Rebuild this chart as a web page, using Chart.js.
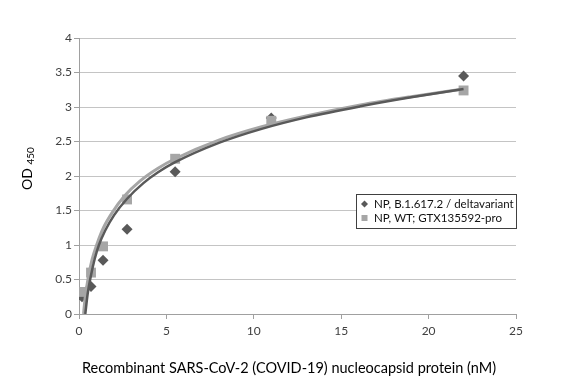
<!DOCTYPE html>
<html>
<head>
<meta charset="utf-8">
<script src="https://cdn.jsdelivr.net/npm/chart.js@4/dist/chart.umd.min.js"></script>
<style>
  html,body{margin:0;padding:0;background:#fff;}
  #wrap{width:582px;height:382px;position:relative;}
</style>
</head>
<body>
<div id="wrap"><canvas id="c" width="582" height="382"></canvas></div>
<script>
// Concentrations (nM)
const concentrations = [0.172, 0.6875, 1.375, 2.75, 5.5, 11, 22];
// Measured OD450
const deltaValues = [0.25, 0.40, 0.78, 1.23, 2.06, 2.84, 3.45];
const wtValues    = [0.32, 0.60, 0.98, 1.66, 2.25, 2.80, 3.24];
// Trendlines
const deltaFitX = [0.36, 0.5, 0.67, 0.9, 1.14, 1.5, 2.0, 2.75, 3.7, 4.5, 5.5, 8, 10.4, 13, 16.1, 19, 22];
const deltaFitY = [0.0, 0.30, 0.54, 0.80, 1.00, 1.21, 1.43, 1.67, 1.90, 2.05, 2.20, 2.48, 2.68, 2.85, 3.01, 3.14, 3.26];
const wtFitX = [0.26, 0.35, 0.51, 0.75, 1.01, 1.4, 1.9, 2.6, 3.5, 4.5, 5.5, 8, 10.4, 13, 16.1, 19, 22];
const wtFitY = [0.0, 0.23, 0.50, 0.79, 1.00, 1.25, 1.47, 1.71, 1.93, 2.11, 2.25, 2.52, 2.71, 2.87, 3.03, 3.15, 3.26];
// Axis ticks
const xTicks = [0, 5, 10, 15, 20, 25];
const yTicks = [0, 0.5, 1, 1.5, 2, 2.5, 3, 3.5, 4];
const seriesNames = ['NP, B.1.617.2 / deltavariant', 'NP, WT; GTX135592-pro'];
const xTitle = 'Recombinant SARS-CoV-2 (COVID-19) nucleocapsid protein (nM)';

const pts = (xs, ys) => xs.map((x, i) => ({x, y: ys[i]}));

const overlay = {
  id: 'overlay',
  afterDraw(chart) {
    const ctx = chart.ctx;
    ctx.save();
    // Y title with subscript
    ctx.translate(27, 190);
    ctx.rotate(-Math.PI / 2);
    ctx.fillStyle = '#000';
    ctx.textBaseline = 'middle';
    ctx.textAlign = 'left';
    ctx.font = '14px Lato';
    ctx.fillText('OD', 0, 0);
    const w = ctx.measureText('OD ').width;
    ctx.font = '10px Lato';
    ctx.fillText('450', w, 4);
    ctx.restore();

    // X title
    ctx.save();
    ctx.fillStyle = '#000';
    ctx.font = '14.5px Lato';
    ctx.textAlign = 'center';
    ctx.textBaseline = 'middle';
    ctx.fillText(xTitle, 289, 368);
    ctx.restore();

    // Legend
    ctx.save();
    ctx.fillStyle = '#fff';
    ctx.fillRect(356.5, 194.5, 160, 34);
    ctx.strokeStyle = '#404040';
    ctx.lineWidth = 1;
    ctx.strokeRect(356.5, 194.5, 160, 34);
    ctx.fillStyle = '#595959';
    ctx.beginPath();
    ctx.moveTo(364.5, 200.5); ctx.lineTo(368, 204); ctx.lineTo(364.5, 207.5); ctx.lineTo(361, 204);
    ctx.closePath(); ctx.fill();
    ctx.fillStyle = '#a6a6a6';
    ctx.fillRect(361.5, 215, 6, 6);
    ctx.fillStyle = '#111';
    ctx.font = '11.5px Lato';
    ctx.textAlign = 'left';
    ctx.textBaseline = 'middle';
    ctx.fillText(seriesNames[0], 374, 204);
    ctx.fillText(seriesNames[1], 374, 218);
    ctx.restore();
  }
};

new Chart(document.getElementById('c'), {
  type: 'scatter',
  data: {
    datasets: [
      { label: seriesNames[0] + ' fit', data: pts(deltaFitX, deltaFitY), showLine: true, pointRadius: 0,
        borderColor: '#595959', borderWidth: 2.5, cubicInterpolationMode: 'monotone', order: 0 },
      { label: seriesNames[1] + ' fit', data: pts(wtFitX, wtFitY), showLine: true, pointRadius: 0,
        borderColor: '#a6a6a6', borderWidth: 3, cubicInterpolationMode: 'monotone', order: 1 },
      { label: seriesNames[1], data: pts(concentrations, wtValues), pointStyle: 'rect', pointRadius: 7,
        backgroundColor: '#a6a6a6', borderColor: '#a6a6a6', borderWidth: 0, order: 2 },
      { label: seriesNames[0], data: pts(concentrations, deltaValues), pointStyle: 'rectRot', pointRadius: 5.5,
        backgroundColor: '#595959', borderColor: '#595959', borderWidth: 0, order: 3 }
    ]
  },
  options: {
    responsive: false,
    animation: false,
    devicePixelRatio: 1,
    layout: { padding: { top: 38, right: 66, left: 0, bottom: 0 } },
    plugins: { legend: { display: false }, tooltip: { enabled: false } },
    scales: {
      x: {
        type: 'linear', min: 0, max: 25,
        afterBuildTicks: s => { s.ticks = xTicks.map(v => ({value: v})); },
        afterFit: s => { s.height = 68; },
        ticks: { color: '#404040', font: { family: 'Lato', size: 12 }, padding: 5, maxRotation: 0,
                 callback: v => String(v) },
        grid: { drawOnChartArea: false, drawTicks: true, tickLength: 5, color: '#a0a0a0', tickColor: '#a0a0a0' },
        border: { display: true, color: '#a0a0a0', width: 1 }
      },
      y: {
        type: 'linear', min: 0, max: 4,
        afterBuildTicks: s => { s.ticks = yTicks.map(v => ({value: v})); },
        afterFit: s => { s.width = 79; },
        ticks: { color: '#404040', font: { family: 'Lato', size: 12 }, padding: 2,
                 callback: v => String(v) },
        grid: { color: '#c4c4c4', tickColor: '#a0a0a0', tickLength: 5, drawTicks: true },
        border: { display: true, color: '#a0a0a0', width: 1 }
      }
    }
  },
  plugins: [overlay]
});
</script>
</body>
</html>
